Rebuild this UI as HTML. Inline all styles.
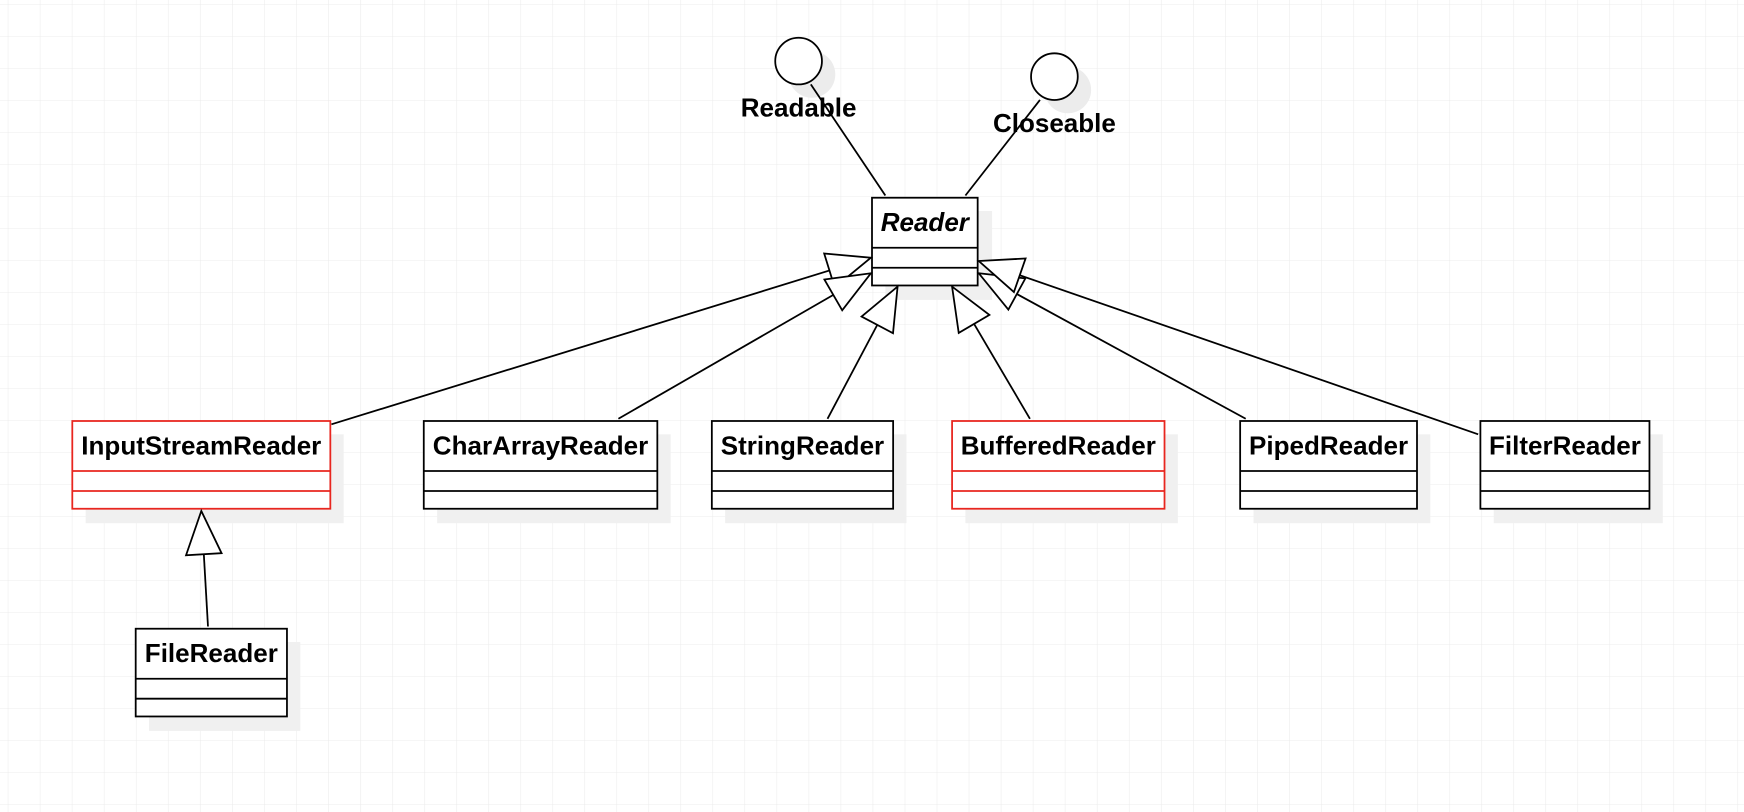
<!DOCTYPE html>
<html><head><style>html,body{margin:0;padding:0;background:#fff;overflow:hidden}svg{display:block}</style></head>
<body>
<svg width="1744" height="812" viewBox="0 0 1568 731" preserveAspectRatio="none" xmlns="http://www.w3.org/2000/svg" font-family="Liberation Sans, sans-serif">
<defs>
<pattern id="g" x="7" y="4" width="28.8" height="28.8" patternUnits="userSpaceOnUse">
<path d="M0 0 V28.8 M0 0 H28.8" stroke="#ececec" stroke-width="1" fill="none"/>
</pattern>
<marker id="tri" markerUnits="userSpaceOnUse" markerWidth="44" markerHeight="40" refX="40" refY="18" orient="auto">
<path d="M1 2 L40 18 L1 34 Z" fill="#fff" stroke="#000" stroke-width="1.6"/>
</marker>
</defs>
<rect width="1568" height="731" fill="url(#g)"/>
<circle cx="730" cy="67" r="21" fill="#ececec"/>
<circle cx="960" cy="81" r="21" fill="#ececec"/>
<circle cx="718" cy="55" r="21" fill="#fff" stroke="#000" stroke-width="1.6"/>
<circle cx="948" cy="69" r="21" fill="#fff" stroke="#000" stroke-width="1.6"/>
<g stroke="#000" stroke-width="1.6" fill="none">
<line x1="729" y1="76" x2="796" y2="176"/>
<line x1="935" y1="90" x2="868" y2="176"/>
</g>
<g font-weight="bold" font-size="23.4" text-anchor="middle">
<text x="718" y="105">Readable</text>
<text x="948" y="119">Closeable</text>
</g>
<g fill="#f0f0f0">
<rect x="796" y="190" width="96" height="80"/>
<rect x="77" y="391" width="232" height="80"/>
<rect x="393" y="391" width="210" height="80"/>
<rect x="652" y="391" width="163" height="80"/>
<rect x="868" y="391" width="191" height="80"/>
<rect x="1127" y="391" width="159" height="80"/>
<rect x="1343" y="391" width="152" height="80"/>
<rect x="134" y="578" width="136" height="80"/>
</g>
<g stroke-width="1.6" fill="#fff">
<g stroke="#000"><rect x="784" y="178" width="95" height="79"/><line x1="784" y1="223" x2="879" y2="223"/><line x1="784" y1="241" x2="879" y2="241"/></g>
<g stroke="#e8261f"><rect x="65" y="379" width="232" height="79"/><line x1="65" y1="424" x2="297" y2="424"/><line x1="65" y1="442" x2="297" y2="442"/></g>
<g stroke="#000"><rect x="381" y="379" width="210" height="79"/><line x1="381" y1="424" x2="591" y2="424"/><line x1="381" y1="442" x2="591" y2="442"/></g>
<g stroke="#000"><rect x="640" y="379" width="163" height="79"/><line x1="640" y1="424" x2="803" y2="424"/><line x1="640" y1="442" x2="803" y2="442"/></g>
<g stroke="#e8261f"><rect x="856" y="379" width="191" height="79"/><line x1="856" y1="424" x2="1047" y2="424"/><line x1="856" y1="442" x2="1047" y2="442"/></g>
<g stroke="#000"><rect x="1115" y="379" width="159" height="79"/><line x1="1115" y1="424" x2="1274" y2="424"/><line x1="1115" y1="442" x2="1274" y2="442"/></g>
<g stroke="#000"><rect x="1331" y="379" width="152" height="79"/><line x1="1331" y1="424" x2="1483" y2="424"/><line x1="1331" y1="442" x2="1483" y2="442"/></g>
<g stroke="#000"><rect x="122" y="566" width="136" height="79"/><line x1="122" y1="611" x2="258" y2="611"/><line x1="122" y1="629" x2="258" y2="629"/></g>
</g>
<g font-weight="bold" font-size="23.4" text-anchor="middle">
<text x="831.5" y="208" font-style="italic">Reader</text>
<text x="181" y="409">InputStreamReader</text>
<text x="486" y="409">CharArrayReader</text>
<text x="721.5" y="409">StringReader</text>
<text x="951.5" y="409">BufferedReader</text>
<text x="1194.5" y="409">PipedReader</text>
<text x="1407" y="409">FilterReader</text>
<text x="190" y="596">FileReader</text>
</g>
<g stroke="#000" stroke-width="1.6" fill="none" marker-end="url(#tri)">
<line x1="298" y1="382" x2="783" y2="232"/>
<line x1="556" y1="377" x2="783" y2="246"/>
<line x1="744" y1="377" x2="807" y2="258"/>
<line x1="926" y1="377" x2="856" y2="258"/>
<line x1="1120" y1="377" x2="880" y2="246"/>
<line x1="1329" y1="391" x2="880" y2="235"/>
<line x1="187" y1="564" x2="181" y2="460"/>
</g>
</svg>
</body></html>
